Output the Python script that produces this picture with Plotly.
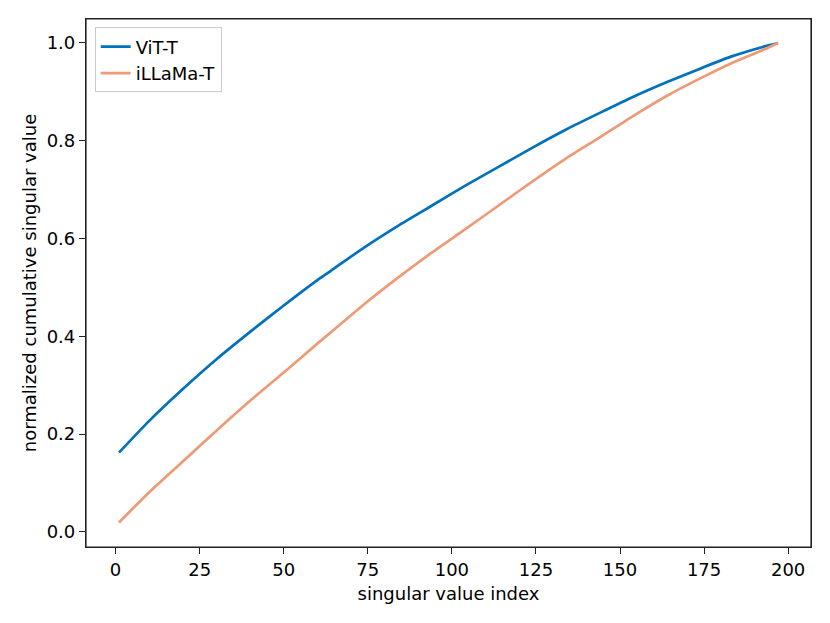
import plotly.graph_objects as go

# singular value index and normalized cumulative singular value
index = [1, 10, 20, 30, 40, 50, 60, 64, 74, 84, 94, 104, 114, 124, 134, 144, 154, 164,
         174, 183, 193, 197]
vit_t = [0.162, 0.227, 0.292, 0.353, 0.409, 0.463, 0.515, 0.534, 0.582, 0.626, 0.667,
         0.708, 0.747, 0.786, 0.823, 0.857, 0.890, 0.920, 0.948, 0.972, 0.993, 1.0]
illama_t = [0.019, 0.081, 0.144, 0.207, 0.268, 0.326, 0.385, 0.408, 0.466, 0.520, 0.571,
            0.619, 0.668, 0.717, 0.764, 0.807, 0.851, 0.892, 0.928, 0.958, 0.987, 1.0]

x_ticks = [0, 25, 50, 75, 100, 125, 150, 175, 200]
y_ticks = [0.0, 0.2, 0.4, 0.6, 0.8, 1.0]

font = dict(family="DejaVu Sans", size=18, color="black")

fig = go.Figure()
fig.add_trace(go.Scatter(x=index, y=vit_t, mode="lines", name="ViT-T",
                         line=dict(color="#0072BD", width=2.7, shape="spline", smoothing=0.6)))
fig.add_trace(go.Scatter(x=index, y=illama_t, mode="lines", name="iLLaMa-T",
                         line=dict(color="#EE9A77", width=2.7, shape="spline", smoothing=0.6)))

axis_common = dict(
    showgrid=False, zeroline=False, showline=True, linecolor="#222222", linewidth=1.2,
    mirror=True, ticks="outside", ticklen=6, tickwidth=1.2, tickcolor="#222222",
    tickfont=font,
)

# the page body adds an 8px offset, so margins are shifted to compensate
fig.update_layout(
    width=830,
    height=623,
    margin=dict(l=78, r=27, t=11, b=84),
    plot_bgcolor="white",
    paper_bgcolor="white",
    font=font,
    xaxis=dict(range=[-8.8, 206.8], tickvals=x_ticks,
               title=dict(text="singular value index", font=font, standoff=8), **axis_common),
    yaxis=dict(range=[-0.031, 1.049], tickvals=y_ticks, tickformat=".1f",
               title=dict(text="normalized cumulative singular value", font=font, standoff=5),
               **axis_common),
    legend=dict(x=0.012, y=0.984, xanchor="left", yanchor="top",
                bgcolor="rgba(255,255,255,0.8)", bordercolor="#cccccc", borderwidth=1,
                font=font, tracegroupgap=0),
    showlegend=True,
)

# frame around the plotting area
fig.add_shape(type="rect", xref="paper", yref="paper", x0=0, y0=0, x1=1, y1=1,
              line=dict(color="#222222", width=1.2), layer="above")

fig.write_html("out.html")
